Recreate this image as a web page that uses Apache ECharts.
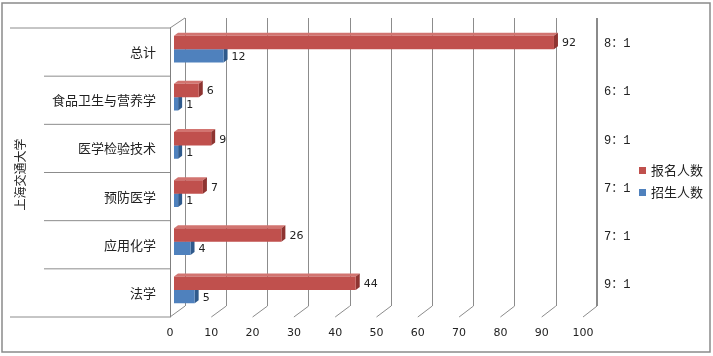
<!DOCTYPE html>
<html><head><meta charset="utf-8">
<script src="https://cdn.jsdelivr.net/npm/echarts@6/dist/echarts.min.js"></script>
<style>html,body{margin:0;padding:0;background:#fff}#c{width:713px;height:356px}</style>
</head><body><div id="c"></div>
<script>
// ---- data ----
const categories = ['总计', '食品卫生与营养学', '医学检验技术', '预防医学', '应用化学', '法学'];
const applicants = [92, 6, 9, 7, 26, 44];
const admitted = [12, 1, 1, 1, 4, 5];
const ratios = ['8：1', '6：1', '9：1', '7：1', '7：1', '9：1'];
const seriesNames = ['报名人数', '招生人数'];
const groupLabel = '上海交通大学';
const xMin = 0, xMax = 100, xStep = 10;

// ---- styles ----
const CJK = '"Noto Sans CJK SC", "Noto Sans", sans-serif';
const NUM = '"DejaVu Sans", sans-serif';
const RED = { front: '#C0504D', top: '#D27470', side: '#8E3431' };
const BLUE = { front: '#4F81BD', top: '#7A9FD0', side: '#2F5A8C' };
const DX = 4, DY = 3;

const chart = echarts.init(document.getElementById('c'), null, { renderer: 'canvas' });

function barRenderer(col, y0frac, y1frac) {
  return function (params, api) {
    const v = api.value(0), idx = api.value(1);
    const p0 = api.coord([0, idx]);
    const p1 = api.coord([v, idx]);
    const band = api.size([0, 1])[1];
    const x0 = p0[0] + 4, x1 = p1[0] + 4;
    const yt = p0[1] + band * y0frac, yb = p0[1] + band * y1frac;
    const children = [
      { type: 'polygon', shape: { points: [[x0, yt], [x1, yt], [x1 + DX, yt - DY], [x0 + DX, yt - DY]] }, style: { fill: col.top } },
      { type: 'polygon', shape: { points: [[x1, yt], [x1 + DX, yt - DY], [x1 + DX, yb - DY], [x1, yb]] }, style: { fill: col.side } },
      { type: 'rect', shape: { x: x0, y: yt, width: Math.max(x1 - x0, 0.5), height: yb - yt },
        style: { fill: new echarts.graphic.LinearGradient(0, 0, 0, 1, [{ offset: 0, color: col.front }, { offset: 1, color: col.front }]) } },
      { type: 'text', style: { text: String(v), x: x1 + DX + 4, y: (yt + yb) / 2 + 1, textVerticalAlign: 'middle', fontSize: 11, fontFamily: NUM, fill: '#222' } }
    ];
    return { type: 'group', children };
  };
}

function ratioRenderer(params, api) {
  const idx = api.value(1);
  const p = api.coord([xMax, idx]);
  return { type: 'text', style: { text: ratios[idx], x: p[0] + 21, y: p[1] - 8, textVerticalAlign: 'middle', fontSize: 12, fontFamily: '"Liberation Mono", "Noto Sans CJK SC", monospace', fill: '#222' } };
}

const option = {
  backgroundColor: '#fff',
  animation: false,
  legend: {
    data: seriesNames, orient: 'vertical', left: 634, top: 159,
    itemWidth: 7, itemHeight: 7, itemGap: 9, itemTextGap: 4, icon: 'rect',
    textStyle: { fontSize: 13, fontFamily: CJK, color: '#222' }
  },
  grid: [
    { left: 170, top: 28, width: 413, height: 289 },
    { left: 185, top: 18, width: 412, height: 288 }
  ],
  xAxis: [
    { type: 'value', gridIndex: 0, min: xMin, max: xMax, interval: xStep,
      axisLine: { show: false }, axisTick: { show: false }, splitLine: { show: false },
      axisLabel: { margin: 11, fontSize: 11, fontFamily: NUM, color: '#222' } },
    { type: 'value', gridIndex: 1, min: xMin, max: xMax, interval: xStep,
      axisLine: { show: false }, axisTick: { show: false }, axisLabel: { show: false },
      splitLine: { show: true, lineStyle: { color: '#8c8c8c', width: 1 } } }
  ],
  yAxis: [
    { type: 'category', gridIndex: 0, data: categories, inverse: true,
      axisLine: { show: true, lineStyle: { color: '#7f7f7f' } }, axisTick: { show: false }, splitLine: { show: false },
      axisLabel: { margin: 14, fontSize: 13, fontFamily: CJK, color: '#222' } },
    { type: 'category', gridIndex: 1, data: categories, inverse: true, show: false }
  ],
  series: [
    { name: seriesNames[1], type: 'custom', xAxisIndex: 0, yAxisIndex: 0, itemStyle: { color: BLUE.front },
      encode: { x: 0, y: 1 }, data: admitted.map((v, i) => [v, i]), renderItem: barRenderer(BLUE, -0.06, 0.215), z: 3 },
    { name: seriesNames[0], type: 'custom', xAxisIndex: 0, yAxisIndex: 0, itemStyle: { color: RED.front },
      encode: { x: 0, y: 1 }, data: applicants.map((v, i) => [v, i]), renderItem: barRenderer(RED, -0.34, -0.06), z: 4 },
    { name: 'ratio', type: 'custom', xAxisIndex: 0, yAxisIndex: 0, encode: { x: 0, y: 1 },
      data: ratios.map((r, i) => [xMax, i]), renderItem: ratioRenderer, z: 5 }
  ]
};
chart.setOption(option);

// ---- decorative frame lines derived from axes ----
const F = (x, y) => chart.convertToPixel({ gridIndex: 0 }, [x, y]);
const B = (x, y) => chart.convertToPixel({ gridIndex: 1 }, [x, y]);
const centers = categories.map((c, i) => F(0, i)[1]);
const half = (centers[1] - centers[0]) / 2;
const frontTop = centers[0] - half, frontBot = centers[centers.length - 1] + half;
const backTop = B(0, 0)[1] - half, backBot = B(0, categories.length - 1)[1] + half;
const xf0 = F(0, 0)[0], xb0 = B(0, 0)[0];
const ln = (x1, y1, x2, y2, color, w) => ({ type: 'line', shape: { x1, y1, x2, y2 }, style: { stroke: color || '#8c8c8c', lineWidth: w || 1 }, silent: true });
const g = [];
g.push({ type: 'rect', shape: { x: 2, y: 3, width: 708, height: 349 }, style: { fill: null, stroke: '#8a8a8a', lineWidth: 1.5 }, silent: true });
g.push(ln(10, frontTop, xf0, frontTop, '#8c8c8c'));
g.push(ln(10, frontBot, xf0, frontBot, '#8c8c8c'));
for (let i = 0; i < centers.length - 1; i++) {
  const y = (centers[i] + centers[i + 1]) / 2;
  g.push(ln(44, y, xf0, y, '#8c8c8c'));
}
g.push(ln(xf0, frontTop, xb0, backTop));
for (let t = xMin; t <= xMax; t += xStep) {
  g.push(ln(F(t, 0)[0], frontBot, B(t, 0)[0], backBot));
}
const xb100 = B(xMax, 0)[0];
g.push(ln(xb100, backTop, xb100, backBot, '#8a8a8a', 2));
g.push({ type: 'text', x: 20, y: (frontTop + frontBot) / 2 + 2, rotation: Math.PI / 2,
  style: { text: groupLabel, fontSize: 12, fontFamily: CJK, fill: '#222', textAlign: 'center', textVerticalAlign: 'middle' }, silent: true });
chart.setOption({ graphic: g });
</script>
</body></html>
